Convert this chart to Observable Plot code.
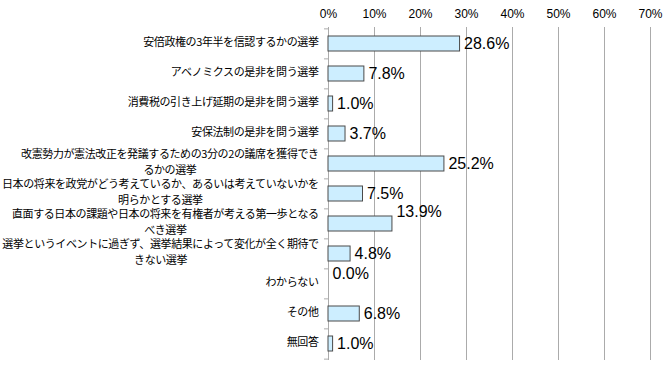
<!DOCTYPE html>
<html>
<head>
<meta charset="utf-8">
<script src="https://cdn.jsdelivr.net/npm/d3@7"></script>
<script src="https://cdn.jsdelivr.net/npm/@observablehq/plot@0.6"></script>
<style>
  html, body { margin: 0; padding: 0; background: #fff; }
  #chart svg { display: block; }
</style>
</head>
<body>
<div id="chart"></div>
<script>
const categories = [
  "安倍政権の3年半を信認するかの選挙",
  "アベノミクスの是非を問う選挙",
  "消費税の引き上げ延期の是非を問う選挙",
  "安保法制の是非を問う選挙",
  "改憲勢力が憲法改正を発議するための3分の2の議席を獲得でき\nるかの選挙",
  "日本の将来を政党がどう考えているか、あるいは考えていないかを\n明らかとする選挙",
  "直面する日本の課題や日本の将来を有権者が考える第一歩となる\nべき選挙",
  "選挙というイベントに過ぎず、選挙結果によって変化が全く期待で\nきない選挙",
  "わからない",
  "その他",
  "無回答"
];
const values = [28.6, 7.8, 1.0, 3.7, 25.2, 7.5, 13.9, 4.8, 0.0, 6.8, 1.0];
const labelNudge = [0, 0, 0, 0, 0, 0, -12, 0, -10, 0, 0];
const xTicks = [0, 10, 20, 30, 40, 50, 60, 70];

const data = categories.map((c, i) => ({category: c, value: values[i], nudge: labelNudge[i]}));

const W = 670, H = 366;
const mTop = 27, mBottom = 6, mLeft = 328, mRight = 20;
const step = (H - mTop - mBottom) / categories.length;

const gridColor = "#ababab";
const nudges = [...new Set(labelNudge)];

const valueLabels = nudges.map(n => Plot.text(data.filter(d => d.nudge === n), {
  x: "value", y: "category",
  text: d => d.value.toFixed(1) + "%",
  textAnchor: "start", dx: 4, dy: n,
  fontSize: 16, fill: "#000",
  fontFamily: "Liberation Sans, Arial, sans-serif"
}));

const chart = Plot.plot({
  width: W, height: H,
  marginTop: mTop, marginBottom: mBottom, marginLeft: mLeft, marginRight: mRight,
  style: {fontFamily: "Liberation Sans, Arial, sans-serif", background: "#fff", color: "#000"},
  x: {domain: [0, 70]},
  y: {domain: categories, paddingInner: 0.5, paddingOuter: 0.25},
  marks: [
    Plot.ruleX(xTicks.filter(t => t > 0), {stroke: gridColor, strokeWidth: 1}),
    Plot.ruleX([0], {stroke: gridColor, strokeWidth: 1}),
    Plot.axisX({anchor: "top", ticks: xTicks, tickFormat: d => d + "%", tickSize: 0, tickPadding: 10, fontSize: 12, label: null}),
    Plot.axisY({anchor: "left", tickSize: 0, tickPadding: 10, fontSize: 11, lineHeight: 1.4, dy: -3,
      fontFamily: "Noto Sans CJK JP, sans-serif", label: null, className: "ylabels"}),
    Plot.axisY({anchor: "left", tickSize: 4, text: null, dy: -step / 2, stroke: gridColor, label: null}),
    Plot.axisY({anchor: "left", ticks: [categories[categories.length - 1]], tickSize: 4, text: null, dy: step / 2, stroke: gridColor, label: null}),
    Plot.barX(data, {x: "value", y: "category", fill: "#cdeeff", stroke: "#4a4a4a", strokeWidth: 1}),
    ...valueLabels
  ]
});

document.getElementById("chart").appendChild(chart);

// Tighten the category labels slightly, then center the wrapped lines of multi-line labels (as in the original)
const ylab = chart.querySelector("g.ylabels");
if (ylab) ylab.setAttribute("letter-spacing", "-0.4px");
chart.querySelectorAll("g.ylabels text").forEach(t => {
  const spans = t.querySelectorAll("tspan");
  if (spans.length > 1) {
    const bb = t.getBBox();
    const cx = bb.x + bb.width / 2;
    t.setAttribute("text-anchor", "middle");
    spans.forEach(s => s.setAttribute("x", cx));
  }
});
</script>
</body>
</html>
